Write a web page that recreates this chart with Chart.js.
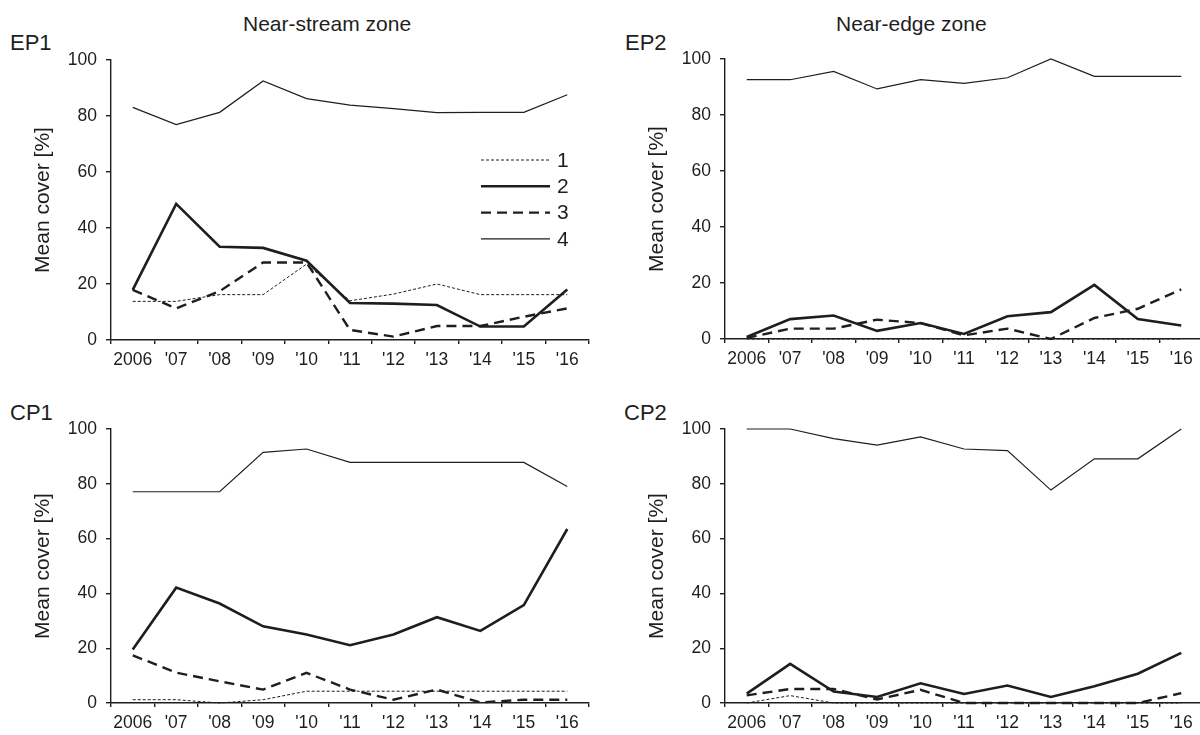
<!DOCTYPE html>
<html>
<head>
<meta charset="utf-8">
<script src="https://cdn.jsdelivr.net/npm/chart.js@4.4.0/dist/chart.umd.min.js"></script>
<style>
html, body { margin: 0; padding: 0; background: #fff; overflow: hidden; }
#fig { position: relative; width: 1200px; height: 735px; overflow: hidden; font-family: "Liberation Sans", Arial, sans-serif; color: #1e1e1e; }
.lbl { position: absolute; white-space: nowrap; line-height: 1; }
canvas { position: absolute; }
</style>
</head>
<body>
<div id="fig">
  <div class="lbl" style="left:243px;top:13px;font-size:21px">Near-stream zone</div>
  <div class="lbl" style="left:836px;top:13px;font-size:21px">Near-edge zone</div>
  <div class="lbl" style="left:10px;top:32px;font-size:22px">EP1</div>
  <div class="lbl" style="left:625px;top:32px;font-size:22px">EP2</div>
  <div class="lbl" style="left:10px;top:402px;font-size:22px">CP1</div>
  <div class="lbl" style="left:624px;top:402px;font-size:22px">CP2</div>

  <canvas id="ep1" width="600" height="330" style="left:0;top:40px;width:600px;height:330px"></canvas>
  <canvas id="ep2" width="600" height="330" style="left:614px;top:39px;width:600px;height:330px"></canvas>
  <canvas id="cp1" width="600" height="324" style="left:0;top:409px;width:600px;height:324px"></canvas>
  <canvas id="cp2" width="600" height="324" style="left:614px;top:409px;width:600px;height:324px"></canvas>
</div>

<script>
// data
const years = ["2006", "'07", "'08", "'09", "'10", "'11", "'12", "'13", "'14", "'15", "'16"];
const yTicks = [0, 20, 40, 60, 80, 100];
const seriesNames = ["1", "2", "3", "4"];

// EP1 - near-stream
const ep1_1 = [13.8, 13.8, 16.2, 16.2, 27.1, 14.0, 16.4, 20.0, 16.2, 16.2, 16.2];
const ep1_2 = [17.9, 48.6, 33.3, 32.9, 28.3, 13.2, 13.0, 12.5, 4.8, 4.8, 18.0];
const ep1_3 = [17.9, 11.3, 17.4, 27.7, 27.7, 3.6, 1.2, 5.0, 5.0, 8.3, 11.3];
const ep1_4 = [83.1, 76.9, 81.3, 92.5, 86.2, 83.9, 82.6, 81.2, 81.3, 81.3, 87.6];

// EP2 - near-edge
const ep2_1 = [0, 0, 0, 0, 0, 0, 0, 0, 0, 0, 0];
const ep2_2 = [0.7, 7.1, 8.4, 2.9, 5.7, 1.8, 8.1, 9.6, 19.3, 7.1, 4.8];
const ep2_3 = [0.4, 3.7, 3.7, 6.9, 5.7, 1.3, 3.7, 0, 7.5, 10.8, 17.7];
const ep2_4 = [92.6, 92.6, 95.6, 89.3, 92.6, 91.3, 93.3, 100, 93.8, 93.8, 93.8];

// CP1 - near-stream
const cp1_1 = [1.2, 1.2, 0, 1.2, 4.3, 4.3, 4.3, 4.3, 4.3, 4.3, 4.3];
const cp1_2 = [19.5, 42.1, 36.3, 28.0, 25.0, 21.1, 25.0, 31.3, 26.3, 35.7, 63.5];
const cp1_3 = [17.4, 11.1, 7.9, 4.9, 11.0, 4.9, 1.2, 4.9, 0.2, 1.2, 1.2];
const cp1_4 = [77.1, 77.1, 77.1, 91.5, 92.7, 87.8, 87.8, 87.8, 87.8, 87.8, 79.0];

// CP2 - near-edge
const cp2_1 = [0, 2.7, 0, 0, 0, 0, 0, 0, 0, 0, 0];
const cp2_2 = [3.4, 14.3, 4.2, 2.2, 7.2, 3.3, 6.4, 2.2, 6.1, 10.7, 18.3];
const cp2_3 = [2.8, 5.1, 5.1, 1.3, 4.8, 0, 0, 0, 0, 0, 3.6];
const cp2_4 = [100, 100, 96.5, 94.1, 97.1, 92.7, 92.1, 77.7, 89.1, 89.1, 100];

// styles
const ink = "#1e1e1e";
const family = '"Liberation Sans", Arial, sans-serif';
const lineWidths = [1, 2.6, 2.4, 1.2];
const dashes = [[3, 2], [], [10, 6], []];

// legend drawn inside the EP1 plot, top right
const legendPlugin = {
  id: "insideLegend",
  afterDraw(chart) {
    const { ctx, chartArea } = chart;
    chart.data.datasets.forEach((ds, i) => {
      const y = chartArea.top + 100 + i * 26.3;
      ctx.save();
      ctx.strokeStyle = ds.borderColor;
      ctx.lineWidth = ds.borderWidth;
      ctx.setLineDash(ds.borderDash || []);
      ctx.beginPath();
      ctx.moveTo(chartArea.right - 108, y);
      ctx.lineTo(chartArea.right - 39, y);
      ctx.stroke();
      ctx.setLineDash([]);
      ctx.fillStyle = ink;
      ctx.font = "21px " + family;
      ctx.textBaseline = "middle";
      ctx.fillText(ds.label, chartArea.right - 32, y + 1);
      ctx.restore();
    });
  }
};

function panel(id, series, withLegend) {
  const datasets = seriesNames.map((name, i) => ({
    label: name,
    data: series[i],
    borderColor: ink,
    borderWidth: lineWidths[i],
    borderDash: dashes[i],
    pointRadius: 0,
    tension: 0,
    fill: false,
    clip: false
  }));
  const tickFont = { family: family, size: 17.5 };
  return new Chart(document.getElementById(id), {
    type: "line",
    data: { labels: years, datasets: datasets },
    options: {
      responsive: false,
      animation: false,
      events: [],
      layout: { padding: { left: 0, right: 11, top: 20, bottom: 0 } },
      plugins: { legend: { display: false }, tooltip: { enabled: false } },
      scales: {
        x: {
          offset: true,
          grid: { offset: true, drawOnChartArea: false, tickLength: 4, color: ink, lineWidth: 1.4 },
          border: { color: ink, width: 1.4 },
          ticks: { color: ink, font: tickFont, padding: 6, maxRotation: 0, autoSkip: false },
          afterFit: s => { s.height = 30; }
        },
        y: {
          min: 0,
          max: 100,
          afterBuildTicks: s => { s.ticks = yTicks.map(v => ({ value: v })); },
          grid: { drawOnChartArea: false, tickLength: 5, color: ink, lineWidth: 1.4 },
          border: { color: ink, width: 1.4 },
          ticks: { color: ink, font: tickFont, padding: 9 },
          title: {
            display: true,
            text: "Mean cover [%]",
            color: ink,
            font: { family: family, size: 21 },
            padding: { top: 31, bottom: 0 }
          },
          afterFit: s => { s.width = 111; }
        }
      }
    },
    plugins: withLegend ? [legendPlugin] : []
  });
}

panel("ep1", [ep1_1, ep1_2, ep1_3, ep1_4], true);
panel("ep2", [ep2_1, ep2_2, ep2_3, ep2_4], false);
panel("cp1", [cp1_1, cp1_2, cp1_3, cp1_4], false);
panel("cp2", [cp2_1, cp2_2, cp2_3, cp2_4], false);
</script>
</body>
</html>
